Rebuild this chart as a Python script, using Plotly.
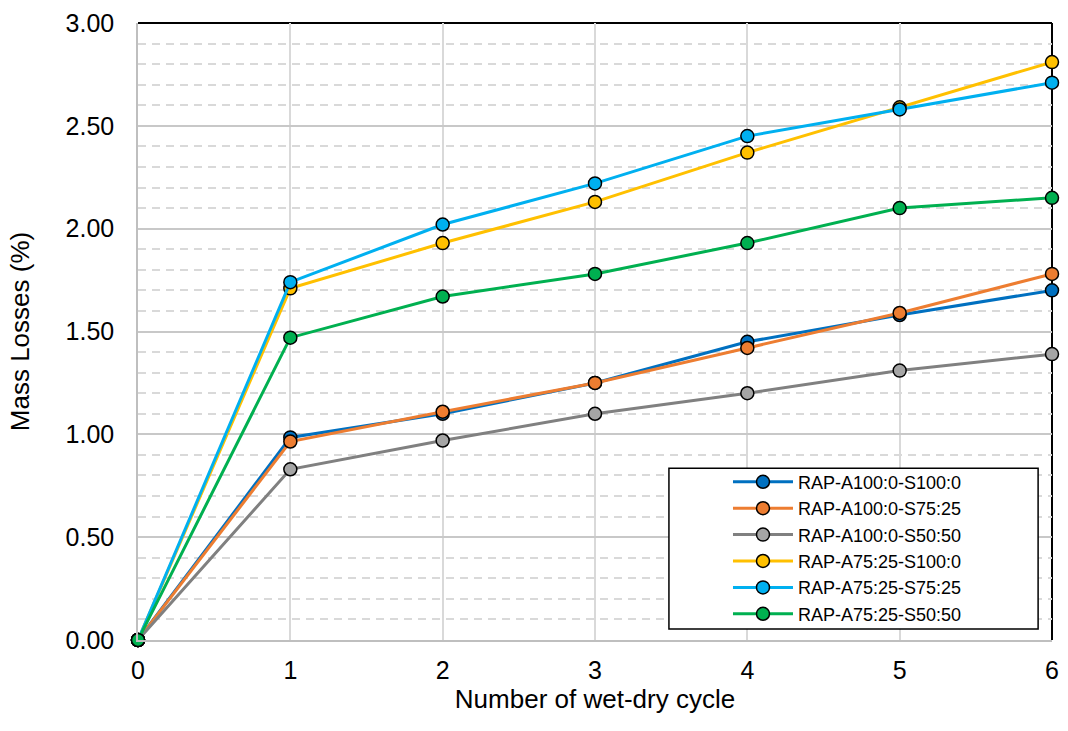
import plotly.graph_objects as go

cycles = [0, 1, 2, 3, 4, 5, 6]
series_names = ["RAP-A100:0-S100:0", "RAP-A100:0-S75:25", "RAP-A100:0-S50:50",
                "RAP-A75:25-S100:0", "RAP-A75:25-S75:25", "RAP-A75:25-S50:50"]
a100_s100 = [0.00, 0.985, 1.10, 1.25, 1.45, 1.58, 1.70]
a100_s75 = [0.00, 0.965, 1.11, 1.25, 1.42, 1.59, 1.78]
a100_s50 = [0.00, 0.83, 0.97, 1.10, 1.20, 1.31, 1.39]
a75_s100 = [0.00, 1.71, 1.93, 2.13, 2.37, 2.59, 2.81]
a75_s75 = [0.00, 1.74, 2.02, 2.22, 2.45, 2.58, 2.71]
a75_s50 = [0.00, 1.47, 1.67, 1.78, 1.93, 2.10, 2.15]
series_values = [a100_s100, a100_s75, a100_s50, a75_s100, a75_s75, a75_s50]
line_colors = ["#0070C0", "#ED7D31", "#808080", "#FFC000", "#00B0F0", "#00B050"]
marker_colors = ["#0070C0", "#ED7D31", "#A5A5A5", "#FFC000", "#00B0F0", "#00B050"]
y_ticks = [0.0, 0.5, 1.0, 1.5, 2.0, 2.5, 3.0]

FONT = "Liberation Sans, Arial, sans-serif"

fig = go.Figure()
for name, vals, lc, mc in zip(series_names, series_values, line_colors, marker_colors):
    fig.add_trace(go.Scatter(
        x=cycles, y=vals, name=name, mode="lines+markers",
        line=dict(color=lc, width=3),
        marker=dict(size=13, color=mc, line=dict(color="black", width=1.5)),
        cliponaxis=False,
    ))

fig.update_layout(
    width=1068, height=731,
    margin=dict(l=138, r=9, t=22, b=91),
    paper_bgcolor="white", plot_bgcolor="white",
    font=dict(family=FONT, color="black"),
    showlegend=True,
    legend=dict(
        x=0.6455, y=0.012, xanchor="left", yanchor="bottom",
        bgcolor="rgba(0,0,0,0)", borderwidth=0,
        font=dict(size=18, family=FONT),
        tracegroupgap=0, itemwidth=60,
    ),
    xaxis=dict(
        range=[0, 6], tickmode="array", tickvals=cycles, ticktext=[str(c) for c in cycles],
        showgrid=True, gridcolor="#D9D9D9", gridwidth=1.5,
        showline=True, linecolor="#BFBFBF", linewidth=1.5,
        zeroline=False, ticks="", tickfont=dict(size=25), ticklabelstandoff=7,
        title=dict(text="Number of wet-dry cycle", font=dict(size=26), standoff=4),
    ),
    yaxis=dict(
        range=[0, 3], tickmode="array", tickvals=y_ticks,
        ticktext=[f"{v:.2f}" for v in y_ticks],
        showgrid=True, gridcolor="#C8C8C8", gridwidth=1.5,
        showline=True, linecolor="#BFBFBF", linewidth=1.5,
        zeroline=False, ticks="", tickfont=dict(size=25), ticklabelstandoff=17,
        minor=dict(dtick=0.1, showgrid=True, gridcolor="#D9D9D9", gridwidth=1.5,
                   griddash="8px,6px", ticks=""),
        title=dict(text="Mass Losses (%)", font=dict(size=26), standoff=28),
    ),
)

# plot frame: black top and right edges
fig.add_shape(type="line", xref="paper", yref="paper", x0=0, x1=1, y0=1, y1=1,
              line=dict(color="black", width=2), layer="between")
fig.add_shape(type="line", xref="paper", yref="paper", x0=1, x1=1, y0=0, y1=1,
              line=dict(color="black", width=2), layer="between")
# legend box
fig.add_shape(type="rect", xref="paper", yref="paper",
              x0=(673 - 138) / 921, x1=(1045 - 138) / 921,
              y0=(640 - 629) / 618, y1=(640 - 468) / 618,
              line=dict(color="black", width=1.5), fillcolor="white", layer="above")

fig.write_html("out.html", config={"displayModeBar": False})

with open("out.html", encoding="utf-8") as f:
    html = f.read()
html = html.replace("<head>", "<head><style>html,body{margin:0;padding:0;overflow:hidden;}</style>", 1)
with open("out.html", "w", encoding="utf-8") as f:
    f.write(html)
